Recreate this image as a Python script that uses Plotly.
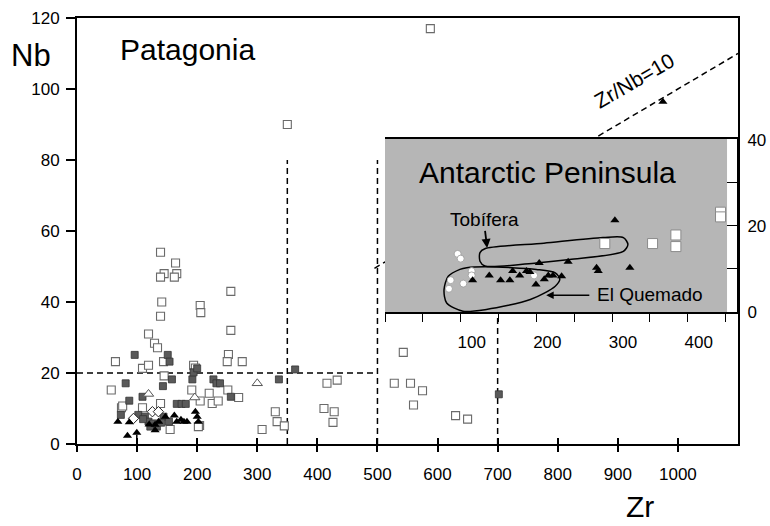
import plotly.graph_objects as go

# ---------------- data: Patagonia (main axes) ----------------
pat_open_sq_zr = [139, 164, 145, 139, 166, 162, 141, 139, 256, 205, 206, 256, 119, 129, 134,
                  64, 109, 119, 144, 194, 197, 252, 250, 275, 57, 145, 191, 220, 251, 269,
                  205, 225, 235, 139, 74, 109, 155, 204, 308, 330, 333, 345, 416, 433, 411,
                  428, 426, 543, 528, 555, 575, 560, 630, 650, 588, 350, 76, 202]
pat_open_sq_nb = [54, 51, 48, 47, 48, 47, 40, 36, 43, 39, 37, 32, 31, 28.4, 27.1,
                  23.2, 21.3, 22.2, 23.2, 22.2, 21.4, 25.2, 23.2, 23.2, 15.2, 19.2, 15.2, 14.3, 15.2, 13.1,
                  12.1, 11.4, 12.1, 11.4, 10.2, 10.2, 4.1, 5.2, 4.1, 9.1, 6.3, 5.1, 17.1, 18.0, 10.0,
                  9.1, 6.1, 25.8, 17.1, 17.1, 15.0, 11.0, 8.0, 7.0, 117, 90, 10.7, 4.9]

pat_fill_sq_zr = [96, 151, 154, 81, 143, 158, 192, 194, 200, 227, 232, 238, 336, 363, 702,
                  109, 87, 256, 166, 174, 181, 73, 102, 113, 119, 127, 122, 133, 144, 153, 110, 140]
pat_fill_sq_nb = [25.1, 25.1, 23.2, 17.1, 16.3, 18.2, 18.2, 20.2, 21.3, 18.2, 17.1, 17.1, 18.2, 21.0, 14.0,
                  13.3, 12.2, 13.3, 11.3, 11.3, 11.3, 8.2, 8.2, 7.7, 6.3, 5.8, 4.9, 4.9, 7.7, 6.3, 7.0, 6.0]

pat_tri_zr = [68, 87, 84, 99.5, 130, 136, 147, 162, 166, 173, 178, 183, 197, 200, 202, 130, 120, 975]
pat_tri_nb = [6.3, 6.1, 2.3, 3.2, 5.4, 6.3, 7.7, 8.0, 6.3, 6.8, 6.3, 6.3, 9.1, 7.7, 6.3, 3.9, 5.5, 96.4]

pat_open_tri_zr = [119, 196, 300]
pat_open_tri_nb = [14.1, 13.1, 17.1]

pat_diamond_zr = [94, 125.5, 135.5]
pat_diamond_nb = [7.2, 9.1, 9.1]

# ---------------- data: Antarctic Peninsula (inset axes) ----------------
ap_circle_zr = [96, 100, 114.5, 114.5, 86.8, 103.5, 84.5, 197]
ap_circle_nb = [13.5, 12.4, 9.5, 8.5, 7.4, 6.6, 5.4, 8.5]

ap_tri_zr = [115.8, 137.8, 152.8, 165, 168.7, 178, 187, 191.5, 203.8, 199.5, 210.5, 215.8, 222,
             233.4, 242, 279.6, 281.8, 303.8, 323.6]
ap_tri_nb = [7.4, 8.5, 7.4, 7.4, 9.5, 8.5, 9.5, 9.3, 11.4, 6.4, 7.6, 8.5, 8.5,
             8.3, 11.7, 10.3, 9.5, 21.3, 10.3]

ap_sq_zr = [290.5, 353.6, 384.4, 384.4, 443.4, 443.4]
ap_sq_nb = [15.9, 15.9, 17.9, 15.2, 23.2, 22.1]

tobifera_zr = [132, 210, 288, 315, 321, 315, 244, 200, 132, 125.5, 125.5, 132]
tobifera_nb = [14.7, 16.0, 17.3, 17.3, 15.7, 14.1, 12.2, 11.4, 10.7, 11.8, 13.8, 14.7]

quemado_zr = [108, 134, 200, 225, 231, 225, 192, 134, 103, 81.5, 78, 83.6, 99, 108]
quemado_nb = [10.3, 10.5, 9.9, 9.1, 7.6, 6.0, 2.9, 0.6, 0.2, 2.1, 5.2, 8.3, 9.9, 10.3]

# tick labels
main_x_ticks = [0, 100, 200, 300, 400, 500, 600, 700, 800, 900, 1000]
main_y_ticks = [0, 20, 40, 60, 80, 100, 120]
inset_x_ticks = [0, 50, 100, 150, 200, 250, 300, 350, 400, 450]
inset_x_labels = ["", "", "100", "", "200", "", "300", "", "400", ""]
inset_y_ticks = [0, 10, 20, 30, 40]
inset_y_labels = ["0", "", "20", "", "40"]

zr_nb_ratio = 10
FONT = "Liberation Sans, Arial, Helvetica, sans-serif"

fig = go.Figure()

# main traces
fig.add_trace(go.Scatter(x=pat_open_sq_zr, y=pat_open_sq_nb, mode="markers",
                         marker=dict(symbol="square", size=8, color="white",
                                     line=dict(color="#6a6a6a", width=1.1)),
                         showlegend=False))
fig.add_trace(go.Scatter(x=pat_fill_sq_zr, y=pat_fill_sq_nb, mode="markers",
                         marker=dict(symbol="square", size=7, color="#5a5a5a",
                                     line=dict(color="#333333", width=0.8)),
                         showlegend=False))
fig.add_trace(go.Scatter(x=pat_open_tri_zr, y=pat_open_tri_nb, mode="markers",
                         marker=dict(symbol="triangle-up", size=9, color="white",
                                     line=dict(color="#555555", width=1)),
                         showlegend=False))
fig.add_trace(go.Scatter(x=pat_diamond_zr, y=pat_diamond_nb, mode="markers",
                         marker=dict(symbol="diamond", size=8, color="white",
                                     line=dict(color="#222222", width=1)),
                         showlegend=False))
fig.add_trace(go.Scatter(x=pat_tri_zr, y=pat_tri_nb, mode="markers",
                         marker=dict(symbol="triangle-up", size=8, color="black"),
                         showlegend=False))
# dummy trace for overlay axis (inside x ticks)
fig.add_trace(go.Scatter(x=[None], y=[None], xaxis="x3", yaxis="y", showlegend=False,
                         hoverinfo="skip"))

# inset traces
fig.add_trace(go.Scatter(x=tobifera_zr, y=tobifera_nb, mode="lines", xaxis="x2", yaxis="y2",
                         line=dict(color="black", width=1.5, shape="spline", smoothing=0.8),
                         showlegend=False))
fig.add_trace(go.Scatter(x=quemado_zr, y=quemado_nb, mode="lines", xaxis="x2", yaxis="y2",
                         line=dict(color="black", width=1.5, shape="spline", smoothing=0.8),
                         showlegend=False))
fig.add_trace(go.Scatter(x=ap_circle_zr, y=ap_circle_nb, mode="markers", xaxis="x2", yaxis="y2",
                         marker=dict(symbol="circle", size=7, color="white",
                                     line=dict(color="#999999", width=0.8)),
                         showlegend=False))
fig.add_trace(go.Scatter(x=ap_tri_zr, y=ap_tri_nb, mode="markers", xaxis="x2", yaxis="y2",
                         marker=dict(symbol="triangle-up", size=8, color="black"),
                         showlegend=False))
fig.add_trace(go.Scatter(x=ap_sq_zr, y=ap_sq_nb, mode="markers", xaxis="x2", yaxis="y2",
                         marker=dict(symbol="square", size=10, color="white",
                                     line=dict(color="#8a8a8a", width=1)),
                         showlegend=False))

dash = dict(color="black", width=1.5, dash="6px,4px")
shapes = [
    dict(type="line", xref="x", yref="y", x0=0, x1=500, y0=20, y1=20, line=dash, layer="below"),
    dict(type="line", xref="x", yref="y", x0=350, x1=350, y0=0, y1=80, line=dash, layer="below"),
    dict(type="line", xref="x", yref="y", x0=500, x1=500, y0=0, y1=80, line=dash, layer="below"),
    dict(type="line", xref="x", yref="y", x0=700, x1=700, y0=0, y1=80, line=dash, layer="below"),
    dict(type="line", xref="x", yref="y", x0=495, x1=1100, y0=495 / zr_nb_ratio,
         y1=1100 / zr_nb_ratio, line=dash, layer="below"),
    # grey inset panel
    dict(type="rect", xref="x2", yref="y2", x0=0, x1=452, y0=0, y1=40.2,
         fillcolor="#b6b6b6", line=dict(width=0), layer="below"),
]

# plot area: x 77..738, y 18..444 of the window
PW, PH = 661, 426
C = dict(xanchor="center", yanchor="middle")
annotations = [
    dict(text="Nb", xref="paper", yref="paper", x=(31 - 77) / PW, y=(444 - 55) / PH,
         showarrow=False, font=dict(size=31, family=FONT, color="black"), **C),
    dict(text="Zr", xref="paper", yref="paper", x=(640 - 77) / PW, y=(444 - 525) / PH,
         xanchor="center", yanchor="bottom",
         showarrow=False, font=dict(size=30, family=FONT, color="black")),
    dict(text="Patagonia", xref="x", yref="y", x=184, y=111, showarrow=False,
         font=dict(size=30, family=FONT, color="black"), **C),
    dict(text="Zr/Nb=10", xref="x", yref="y", x=927, y=102.5, textangle=-30, showarrow=False,
         font=dict(size=21, family=FONT, color="black"), **C),
    dict(text="Antarctic Peninsula", xref="x2", yref="y2", x=215, y=32.4, showarrow=False,
         font=dict(size=30, family=FONT, color="black"), **C),
    dict(text="Tobífera", xref="x2", yref="y2", x=131, y=21.6, showarrow=False,
         font=dict(size=19, family=FONT, color="black"), **C),
    dict(text="El Quemado", xref="x2", yref="y2", x=350, y=4.1, showarrow=False,
         font=dict(size=19, family=FONT, color="black"), **C),
    # arrows
    dict(text="", xref="x2", yref="y2", axref="x2", ayref="y2", x=135, y=14.9, ax=132, ay=19.2,
         showarrow=True, arrowhead=2, arrowsize=1, arrowwidth=1.8, arrowcolor="black", standoff=0),
    dict(text="", xref="x2", yref="y2", axref="x2", ayref="y2", x=213, y=3.9, ax=272, ay=3.9,
         showarrow=True, arrowhead=2, arrowsize=1, arrowwidth=1.5, arrowcolor="black", standoff=0),
    # stem of "below detection" triangle
    dict(text="", xref="x", yref="y", axref="x", ayref="y", x=99.5, y=2.6, ax=99.5, ay=-1.2,
         showarrow=True, arrowhead=0, arrowwidth=1.5, arrowcolor="black", standoff=0),
]

tickfont = dict(size=17, family=FONT, color="black")
fig.update_layout(
    width=770, height=526,
    margin=dict(l=77, r=32, t=18, b=82, autoexpand=False),
    paper_bgcolor="white", plot_bgcolor="white",
    font=dict(family=FONT, color="black"),
    xaxis=dict(range=[0, 1100], tickvals=main_x_ticks, ticks="outside", ticklen=6, tickwidth=1.5,
               tickcolor="black", showline=True, linecolor="black", linewidth=2, mirror=True,
               showgrid=False, zeroline=False, tickfont=tickfont, ticklabelstandoff=8),
    xaxis3=dict(range=[0, 1100], overlaying="x", anchor="y", tickvals=main_x_ticks[1:],
                ticks="inside", ticklen=6, tickwidth=1.5, tickcolor="black",
                showticklabels=False, showline=False, showgrid=False, zeroline=False),
    yaxis=dict(range=[0, 120], tickvals=main_y_ticks, ticks="outside", ticklen=9, tickwidth=1.5,
               tickcolor="black", showline=True, linecolor="black", linewidth=2, mirror=True,
               showgrid=False, zeroline=False, tickfont=tickfont, ticklabelstandoff=3),
    xaxis2=dict(domain=[(385 - 77) / PW, 1.0], anchor="y2", range=[0, 466.5],
                tickvals=inset_x_ticks, ticktext=inset_x_labels, ticks="outside", ticklen=8,
                tickwidth=1.3, tickcolor="black", showline=True, linecolor="black", linewidth=2,
                mirror=True, showgrid=False, zeroline=False, tickfont=tickfont,
                ticklabelshift=11, ticklabelstandoff=6),
    yaxis2=dict(domain=[(444 - 312) / PH, (444 - 139) / PH], anchor="free", position=1.0,
                side="right", range=[0, 40.2], tickvals=inset_y_ticks, ticktext=inset_y_labels,
                ticks="inside", ticklen=10, tickwidth=1.3, tickcolor="black", showline=True,
                linecolor="black", linewidth=2, showgrid=False, zeroline=False, tickfont=tickfont,
                ticklabelstandoff=5),
    shapes=shapes,
    annotations=annotations,
)

fig.write_html("out.html", config={"displayModeBar": False},
               post_script="document.body.style.margin='0';document.body.style.overflow='hidden';")
